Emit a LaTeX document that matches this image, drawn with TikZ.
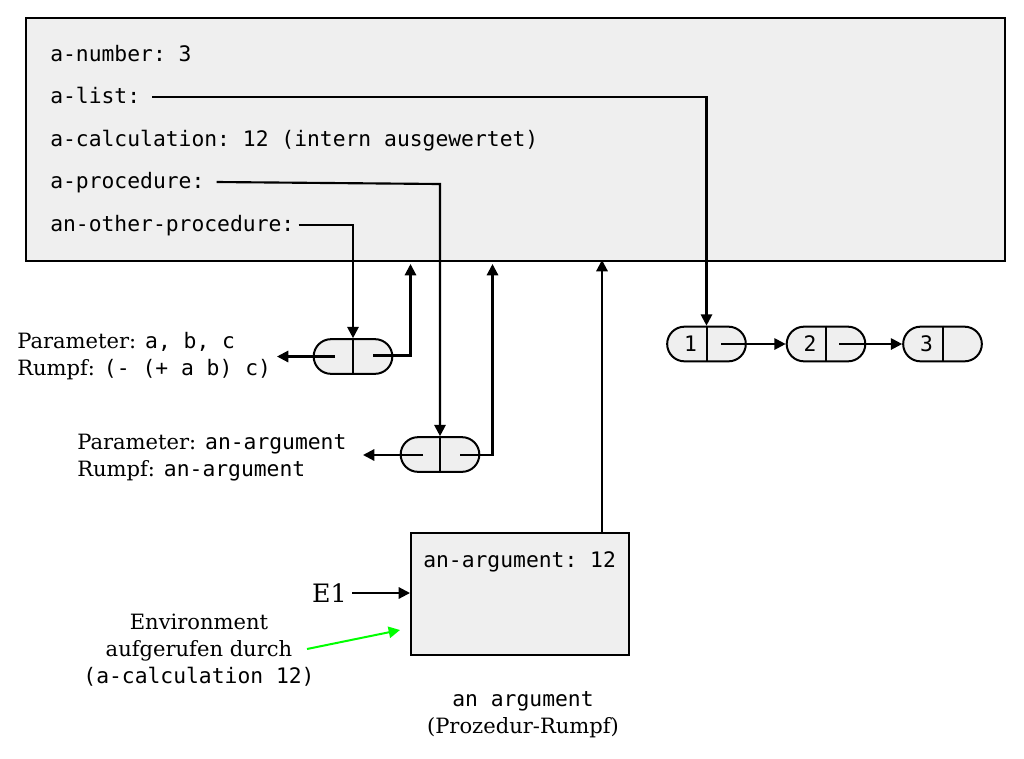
\documentclass[tikz,border=0pt]{standalone}
\usepackage{fontspec}
\setmainfont{DejaVu Serif}
\setmonofont{DejaVu Sans Mono}
\usetikzlibrary{arrows.meta, positioning}

\definecolor{boxgray}{HTML}{EFEFEF}
\definecolor{callgreen}{HTML}{00FF00}
\newcommand\codesize{\fontsize{16pt}{19pt}\selectfont}
\newcommand\notesize{\fontsize{15.8pt}{20.4pt}\selectfont}
\newcommand\cd[1]{{\ttfamily\codesize #1}}

\tikzset{
  frame/.style={draw, fill=boxgray, line width=1.5pt, inner sep=0pt},
  cell/.style={draw, fill=boxgray, line width=1.5pt, rounded corners=13pt,
    minimum width=59pt, minimum height=26pt, inner sep=0pt},
  code/.style={font=\ttfamily\codesize, anchor=base west, inner sep=0pt},
  note/.style={font=\notesize, inner sep=0pt, align=left},
  ptr/.style={->, line width=1.6pt},
}

\begin{document}
\begin{tikzpicture}[x=0.75pt, y=-0.75pt, >={Triangle[length=8.5pt, width=8.5pt]}]
  \useasboundingbox (0,0) rectangle (1024,758);
  % global environment
  \node[frame, minimum width=734.25pt, minimum height=182.25pt] (glob) at (515.5,139.5) {};
  \node[code] (anum) at (50,61) {a-number: 3};
  \node[code] (alist) at (50,103.5) {a-list:};
  \node[code] (acalc) at (50,146) {a-calculation: 12 (intern ausgewertet)};
  \node[code] (aproc) at (50,188.5) {a-procedure:};
  \node[code] (aother) at (50,231) {an-other-procedure:};
  % procedure objects
  \node[cell] (p1) at (353,356.5) {};
  \draw[line width=1.5pt] (p1.north) -- (p1.south);
  \node[cell] (p2) at (440,454.5) {};
  \draw[line width=1.5pt] (p2.north) -- (p2.south);
  \coordinate (p1l) at (335,356.5);
  \coordinate (p1r) at (373,355.5);
  \coordinate (p2l) at (423,455);
  \coordinate (p2r) at (460,455);
  \node[note, anchor=west] (par1) at (17,356) {Parameter: \cd{a, b, c}\\Rumpf: \cd{(- (+ a b) c)}};
  \node[note, anchor=west] (par2) at (77,458) {Parameter: \cd{an-argument}\\Rumpf: \cd{an-argument}};
  % list
  \node[cell] (l1) at (706.5,344) {};
  \node[cell] (l2) at (826,344) {};
  \node[cell] (l3) at (942.5,344) {};
  \foreach \c/\v in {l1/1, l2/2, l3/3}{
    \draw[line width=1.5pt] (\c.north) -- (\c.south);
    \node[font=\ttfamily\codesize, inner sep=0pt] (\c v) at ([xshift=-12pt]\c.center) {\v};
  }
  \coordinate (l1r) at (721,344);
  \coordinate (l2r) at (839,344);
  % environment E1
  \node[frame, minimum width=163.5pt, minimum height=91.5pt] (eone) at (520,594) {};
  \node[code] (earg) at (423,567) {an-argument: 12};
  \node[font=\fontsize{19pt}{22pt}\selectfont, anchor=east, inner sep=0pt] (elabel) at (347,593) {E1};
  \node[note, align=center] (call) at (199,650) {Environment\\aufgerufen durch\\\cd{(a-calculation 12)}};
  \node[note, align=center] (body) at (523,715) {\cd{an argument}\\(Prozedur-Rumpf)};
  \coordinate (gend) at (400,630);
  % bindings
  \draw[ptr] ([xshift=9pt]alist.east |- 0,97) -| (l1.north);
  \draw[ptr] ([xshift=9pt]aproc.east |- 0,182) -- (440,184) -- (p2.north);
  \draw[ptr] ([xshift=3pt]aother.east |- 0,225) -| (p1.north);
  \draw[ptr] (p1l) -- (277,356.5);
  \draw[ptr] (p2l) -- (363,455);
  \draw[ptr, shorten >=1.5pt] (p1r) -| (glob.south -| 410.5,0);
  \draw[ptr, shorten >=1.5pt] (p2r) -| (glob.south -| 492.5,0);
  \draw[ptr] (l1r) -- (l2.west);
  \draw[ptr] (l2r) -- (l3.west);
  \draw[ptr] (eone.north -| 602,0) -- ([yshift=1.5pt]glob.south -| 602,0);
  \draw[ptr] (elabel.east) ++(5,0) -- (eone.west |- elabel.east);
  \draw[->, callgreen, line width=1.5pt] (307,649) -- (gend);
\end{tikzpicture}
\end{document}
